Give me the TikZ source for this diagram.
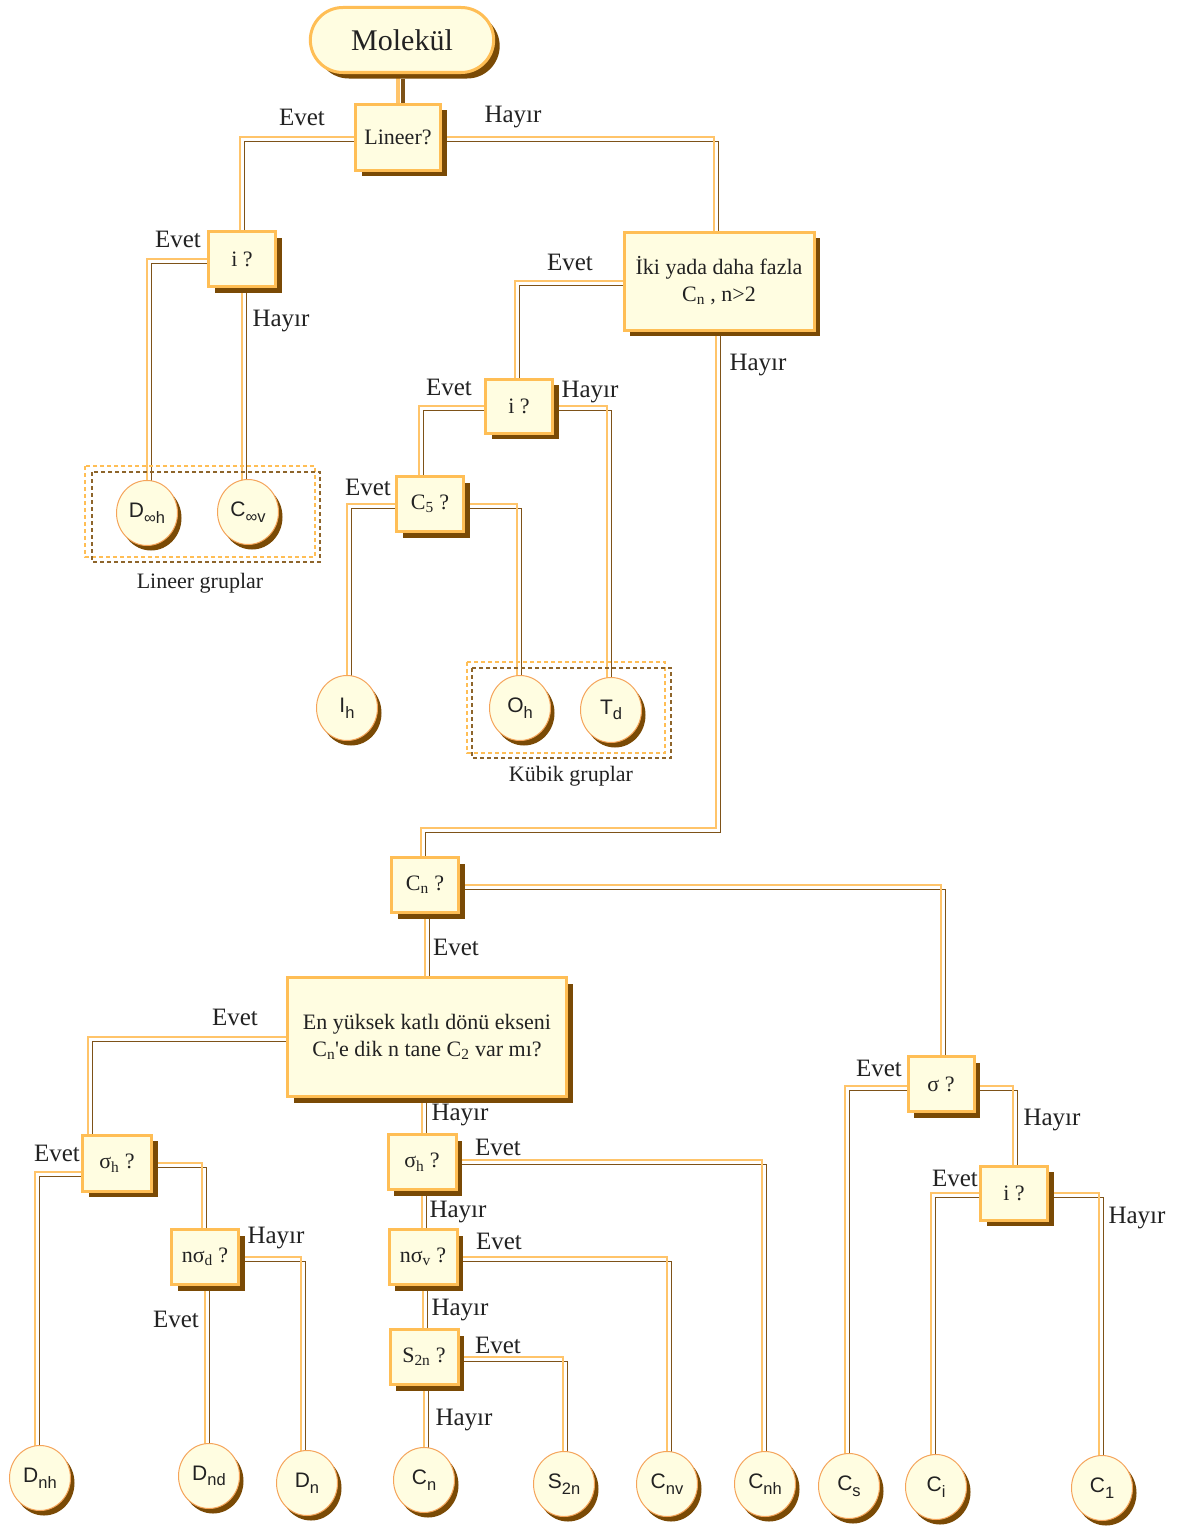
\documentclass[tikz,border=0pt]{standalone}
\usepackage{fontspec}
\setmainfont{Liberation Serif}
\setsansfont{Liberation Sans}
\usetikzlibrary{shadows,backgrounds,shapes.geometric,shapes.misc}
\definecolor{cream}{HTML}{FFFDE1}
\definecolor{orng}{HTML}{FFBE55}
\definecolor{brwn}{HTML}{7A4A05}
\definecolor{wireo}{HTML}{FFC46A}
\definecolor{wireb}{HTML}{7E5218}
\definecolor{circb}{HTML}{F5A45A}
\definecolor{ink}{HTML}{222222}
\newcommand\sbs[1]{\textsubscript{#1}}
\newcommand\csb[1]{\raisebox{-0.5ex}{\fontsize{16.5}{16.5}\selectfont #1}}
\newcommand\wire[2][]{\draw[wshadow,#1] #2; \draw[wlight,#1] #2;}
\tikzset{
  qbox/.style={draw=orng, line width=3pt, fill=cream, minimum width=67pt, minimum height=55pt,
    inner sep=2pt, align=center, font=\fontsize{22}{27}\selectfont, text=ink,
    drop shadow={shadow xshift=6pt, shadow yshift=-6pt, fill=brwn, opacity=1}},
  circ/.style={ellipse, draw=circb, line width=1pt, fill=cream, minimum width=61pt, minimum height=65pt,
    inner sep=0pt, font=\sffamily\fontsize{21}{21}\selectfont, text=ink,
    drop shadow={shadow xshift=4pt, shadow yshift=-5pt, fill=brwn, opacity=1}},
  lbl/.style={font=\fontsize{25}{27}\selectfont, text=ink, inner sep=0pt},
  glbl/.style={font=\fontsize{22}{24}\selectfont, text=ink, inner sep=0pt},
  wlight/.style={draw=wireo, line width=1.8pt},
  wshadow/.style={draw=wireb, line width=1.6pt, transform canvas={shift={(4.5pt,-4.5pt)}}},
  grpo/.style={draw=orng, line width=1.2pt, dash pattern=on 4pt off 3pt},
  grpb/.style={draw=brwn!85, line width=1.2pt, dash pattern=on 4pt off 3pt},
}
\begin{document}
\begin{tikzpicture}[x=1pt,y=-1pt]
\useasboundingbox (0,0) rectangle (1176,1528);

% group boxes
\draw[grpo] (85,466) rectangle (315,557);
\draw[grpb] (92,472) rectangle (320,562);
\draw[grpo] (467,662) rectangle (665,753);
\draw[grpb] (472,668) rectangle (671,758);

% decision nodes
\node[rounded rectangle, draw=orng, line width=3pt, fill=cream, minimum width=190pt, minimum height=65pt,
  font=\fontsize{30}{33}\selectfont, text=ink,
  drop shadow={shadow xshift=6pt, shadow yshift=-6pt, fill=brwn, opacity=1}] (mol) at (402,40) {Molekül};
\node[qbox, minimum width=85pt, minimum height=66pt] (lin) at (398,137) {Lineer?};
\node[qbox] (ia) at (242,259) {i ?};
\node[qbox, minimum width=190pt, minimum height=98pt] (iki) at (719,281) {İki yada daha fazla\\C\sbs{n} , n>2};
\node[qbox, minimum height=54pt] (ib) at (519,406) {i ?};
\node[qbox] (c5) at (430,504) {C\sbs{5} ?};
\node[qbox] (cnq) at (425,885) {C\sbs{n} ?};
\node[qbox, minimum width=279pt, minimum height=119pt] (en) at (427,1037)
  {En yüksek katlı dönü ekseni\\C\sbs{n}\textquotesingle e dik n tane C\sbs{2} var mı?};
\node[qbox, minimum width=66pt] (sig) at (941,1084) {σ ?};
\node[qbox, minimum height=54pt] (ic) at (1014,1193) {i ?};
\node[qbox, minimum width=69pt, minimum height=56pt] (sha) at (117,1163) {σ\sbs{h} ?};
\node[qbox] (nsd) at (205,1257) {nσ\sbs{d} ?};
\node[qbox, minimum width=68pt] (shb) at (422,1162) {σ\sbs{h} ?};
\node[qbox, minimum width=68pt] (nsv) at (423,1257) {nσ\sbs{v} ?};
\node[qbox, minimum width=68pt] (s2q) at (424,1357) {S\sbs{2n} ?};

% point groups
\node[circ] (dinf) at (147,513) {D\csb{∞h}};
\node[circ] (cinf) at (248,512) {C\csb{∞v}};
\node[circ] (ih) at (347,708) {I\csb{h}};
\node[circ] (oh) at (520,708) {O\csb{h}};
\node[circ] (td) at (611,710) {T\csb{d}};
\node[circ] (dnh) at (40,1478) {D\csb{nh}};
\node[circ] (dnd) at (209,1476) {D\csb{nd}};
\node[circ] (dn) at (307,1483) {D\csb{n}};
\node[circ] (cn) at (424,1480) {C\csb{n}};
\node[circ] (s2n) at (564,1484) {S\csb{2n}};
\node[circ] (cnv) at (667,1484) {C\csb{nv}};
\node[circ] (cnh) at (765,1484) {C\csb{nh}};
\node[circ] (cs) at (849,1486) {C\csb{s}};
\node[circ] (ci) at (936,1487) {C\csb{i}};
\node[circ] (c1) at (1102,1488) {C\csb{1}};

% connectors
\coordinate (k1) at (600,828);
\begin{pgfonlayer}{background}
\fill[white] (0,0) rectangle (1176,1528);
\wire[line width=4pt]{(lin.north |- mol.south) -- (lin.north)}
\wire{(lin.west) -| ([xshift=-2pt]ia.north)}
\wire{(lin.east) -| ([xshift=-5pt]iki.north)}
\wire{(ia.west) -| (dinf.center)}
\wire{(ia.south) -- (ia.south |- cinf.center)}
\wire{(iki.west) -| ([xshift=-4pt]ib.north)}
\wire{([xshift=-3pt]iki.south) |- (k1) -| ([xshift=-4pt]cnq.north)}
\wire{(ib.west) -| ([xshift=-11pt]c5.north)}
\wire{(ib.east) -| ([xshift=-4pt]td.center)}
\wire{(c5.west) -| (ih.center)}
\wire{(c5.east) -| ([xshift=-3pt]oh.center)}
\wire{(cnq.east) -| (sig.north)}
\wire{(cnq.south) -- (cnq.south |- en.north)}
\wire{(en.west) -| ([xshift=-29pt]sha.north)}
\wire{(shb.north |- en.south) -- (shb.north)}
\wire{([yshift=-9pt]sha.west) -| ([xshift=-5pt]dnh.center)}
\wire{(sha.east) -| ([xshift=-3pt]nsd.north)}
\wire{(nsd.south) -- (nsd.south |- dnd.center)}
\wire{(nsd.east) -| ([xshift=-6pt]dn.center)}
\wire{([yshift=2pt]shb.east) -| ([xshift=-3pt]cnh.center)}
\wire{(shb.south) -- (shb.south |- nsv.north)}
\wire{(nsv.east) -| (cnv.center)}
\wire{(nsv.south) -- (nsv.south |- s2q.north)}
\wire{(s2q.east) -| ([xshift=-1pt]s2n.center)}
\wire{(s2q.south) -- (s2q.south |- cn.center)}
\wire{([yshift=-2pt]sig.west) -| ([xshift=-4pt]cs.center)}
\wire{([yshift=-2pt]sig.east) -| ([xshift=-1pt]ic.north)}
\wire{(ic.west) -| ([xshift=-5pt]ci.center)}
\wire{(ic.east) -| ([xshift=-3pt]c1.center)}
\end{pgfonlayer}

% labels
\node[lbl] (t1) at (302,117) {Evet};
\node[lbl] (t2) at (513,117) {Hayır};
\node[lbl] (t3) at (178,239) {Evet};
\node[lbl] (t4) at (281,321) {Hayır};
\node[lbl] (t5) at (570,262) {Evet};
\node[lbl] (t6) at (758,365) {Hayır};
\node[lbl] (t7) at (449,387) {Evet};
\node[lbl] (t8) at (590,392) {Hayır};
\node[lbl] (t9) at (368,487) {Evet};
\node[glbl] (g1) at (200,583) {Lineer gruplar};
\node[glbl] (g2) at (571,776) {Kübik gruplar};
\node[lbl] (t10) at (456,947) {Evet};
\node[lbl] (t11) at (235,1017) {Evet};
\node[lbl] (t12) at (879,1068) {Evet};
\node[lbl] (t13) at (460,1115) {Hayır};
\node[lbl] (t14) at (1052,1120) {Hayır};
\node[lbl] (t15) at (57,1153) {Evet};
\node[lbl] (t16) at (498,1147) {Evet};
\node[lbl] (t17) at (955,1178) {Evet};
\node[lbl] (t18) at (458,1212) {Hayır};
\node[lbl] (t19) at (1137,1218) {Hayır};
\node[lbl] (t20) at (276,1238) {Hayır};
\node[lbl] (t21) at (499,1241) {Evet};
\node[lbl] (t22) at (460,1310) {Hayır};
\node[lbl] (t23) at (176,1319) {Evet};
\node[lbl] (t24) at (498,1345) {Evet};
\node[lbl] (t25) at (464,1420) {Hayır};
\end{tikzpicture}
\end{document}
